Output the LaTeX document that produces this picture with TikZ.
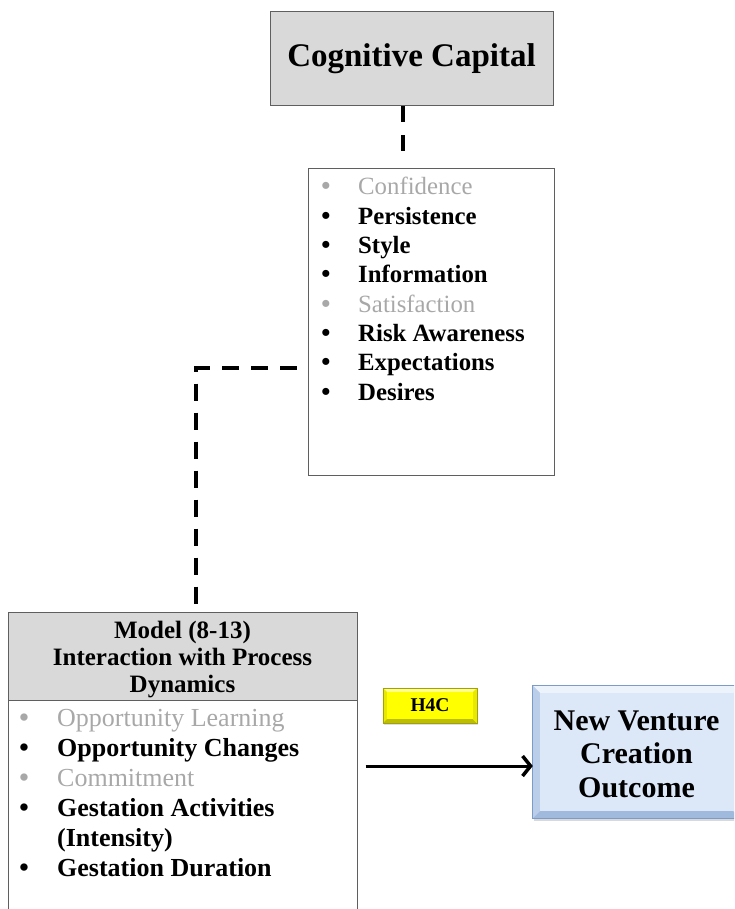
\documentclass[tikz,border=0pt]{standalone}
\usepackage{fontspec}
\setmainfont{Liberation Serif}
\usetikzlibrary{arrows.meta,calc,shadows}

\definecolor{boxgray}{RGB}{217,217,217}
\definecolor{edgegray}{RGB}{95,95,95}
\definecolor{fadetext}{RGB}{168,168,168}
\definecolor{nvcface}{RGB}{220,232,247}
\definecolor{nvctop}{RGB}{236,243,251}
\definecolor{nvcside}{RGB}{186,206,233}
\definecolor{nvcbottom}{RGB}{160,186,222}
\definecolor{nvcedge}{RGB}{125,155,200}
\definecolor{hface}{RGB}{255,255,0}
\definecolor{htop}{RGB}{255,255,140}
\definecolor{hside}{RGB}{232,232,0}
\definecolor{hbottom}{RGB}{190,190,0}
\definecolor{hedge}{RGB}{160,160,20}

\begin{document}
\begin{tikzpicture}[x=1pt,y=-1pt,
  frame/.style={draw=edgegray,line width=1pt,inner sep=0pt},
  link/.style={line width=4pt,dash pattern=on 17pt off 12pt},
  flow/.style={line width=3pt,-{Straight Barb[length=8pt,width=20pt,line width=3.5pt]}},
  lsitem/.style={anchor=base west,inner sep=0pt,font=\fontsize{24.8}{29}\selectfont},
  lsdot/.style={anchor=base,inner sep=0pt,font=\fontsize{26}{29}\selectfont\bfseries},
  mditem/.style={anchor=base west,inner sep=0pt,font=\fontsize{26}{30}\selectfont},
  mddot/.style={anchor=base,inner sep=0pt,font=\fontsize{27}{30}\selectfont\bfseries},
]
\useasboundingbox (0,0) rectangle (734,909);
\clip (0,0) rectangle (734,909);

% Cognitive Capital heading box
\node[frame,fill=boxgray,minimum width=283pt,minimum height=94pt,
      font=\fontsize{33}{38}\selectfont\bfseries] (cc) at (411.5,59) {Cognitive Capital};

% list of cognitive capital facets
\node[frame,minimum width=246pt,minimum height=306pt] (list) at (431,322) {};
\node[lsdot,text=fadetext] (d1) at (326,195) {\textbullet};
\node[lsitem,text=fadetext] (l1) at (358,195) {Confidence};
\node[lsdot] (d2) at (326,224.3) {\textbullet};
\node[lsitem,font=\fontsize{24.8}{29}\selectfont\bfseries] (l2) at (358,224.3) {Persistence};
\node[lsdot] (d3) at (326,253.6) {\textbullet};
\node[lsitem,font=\fontsize{24.8}{29}\selectfont\bfseries] (l3) at (358,253.6) {Style};
\node[lsdot] (d4) at (326,282.9) {\textbullet};
\node[lsitem,font=\fontsize{24.8}{29}\selectfont\bfseries] (l4) at (358,282.9) {Information};
\node[lsdot,text=fadetext] (d5) at (326,312.2) {\textbullet};
\node[lsitem,text=fadetext] (l5) at (358,312.2) {Satisfaction};
\node[lsdot] (d6) at (326,341.5) {\textbullet};
\node[lsitem,font=\fontsize{24.8}{29}\selectfont\bfseries] (l6) at (358,341.5) {Risk Awareness};
\node[lsdot] (d7) at (326,370.8) {\textbullet};
\node[lsitem,font=\fontsize{24.8}{29}\selectfont\bfseries] (l7) at (358,370.8) {Expectations};
\node[lsdot] (d8) at (326,400.1) {\textbullet};
\node[lsitem,font=\fontsize{24.8}{29}\selectfont\bfseries] (l8) at (358,400.1) {Desires};

% model box: shaded header and open-ended body
\node[frame,fill=boxgray,minimum width=349pt,minimum height=88pt] (mhead) at (182.5,656) {};
\node[anchor=base,inner sep=0pt,align=center,font=\fontsize{25}{27}\selectfont\bfseries]
  (mtitle) at (182.5,692) {Model (8-13)\\Interaction with Process\\Dynamics};
\node[frame,minimum width=349pt,minimum height=230pt] (model) at (182.5,815) {};

\node[mddot,text=fadetext] (e1) at (24,726) {\textbullet};
\node[mditem,text=fadetext] (m1) at (57,726) {Opportunity Learning};
\node[mddot] (e2) at (24,756) {\textbullet};
\node[mditem,font=\fontsize{26}{30}\selectfont\bfseries] (m2) at (57,756) {Opportunity Changes};
\node[mddot,text=fadetext] (e3) at (24,786) {\textbullet};
\node[mditem,text=fadetext] (m3) at (57,786) {Commitment};
\node[mddot] (e4) at (24,816) {\textbullet};
\node[mditem,font=\fontsize{26}{30}\selectfont\bfseries] (m4) at (57,816) {Gestation Activities};
\node[mditem,font=\fontsize{26}{30}\selectfont\bfseries] (m5) at (57,846) {(Intensity)};
\node[mddot] (e6) at (24,876) {\textbullet};
\node[mditem,font=\fontsize{26}{30}\selectfont\bfseries] (m6) at (57,876) {Gestation Duration};

% hypothesis label
\node[fill=hface,inner sep=0pt,minimum width=94pt,minimum height=35pt,
      drop shadow={shadow xshift=1pt,shadow yshift=-2pt,opacity=0.25}] (h4c) at (430,705.5) {};
\fill[htop] (h4c.north west) -- (h4c.north east) -- ([xshift=-4pt,yshift=-4pt]h4c.north east)
  -- ([xshift=4pt,yshift=-4pt]h4c.north west) -- cycle;
\fill[hside] (h4c.north west) -- ([xshift=4pt,yshift=-4pt]h4c.north west)
  -- ([xshift=4pt,yshift=4pt]h4c.south west) -- (h4c.south west) -- cycle;
\fill[hbottom] (h4c.south west) -- ([xshift=4pt,yshift=4pt]h4c.south west)
  -- ([xshift=-4pt,yshift=4pt]h4c.south east) -- (h4c.south east) -- cycle;
\fill[hside] (h4c.north east) -- ([xshift=-4pt,yshift=-4pt]h4c.north east)
  -- ([xshift=-4pt,yshift=4pt]h4c.south east) -- (h4c.south east) -- cycle;
\draw[hedge,line width=0.6pt] (h4c.north west) rectangle (h4c.south east);
\node[inner sep=0pt,font=\fontsize{19.5}{22}\selectfont\bfseries] (h4ct) at (h4c.center) {H4C};

% outcome box with bevelled rim
\node[fill=nvcface,inner sep=0pt,minimum width=207pt,minimum height=132pt,
      drop shadow={shadow xshift=1pt,shadow yshift=-3pt,opacity=0.3}] (nvc) at (636.5,752) {};
\fill[nvctop] (nvc.north west) -- (nvc.north east) -- ([xshift=-7pt,yshift=-7pt]nvc.north east)
  -- ([xshift=7pt,yshift=-7pt]nvc.north west) -- cycle;
\fill[nvcside] (nvc.north west) -- ([xshift=7pt,yshift=-7pt]nvc.north west)
  -- ([xshift=7pt,yshift=7pt]nvc.south west) -- (nvc.south west) -- cycle;
\fill[nvcbottom] (nvc.south west) -- ([xshift=7pt,yshift=7pt]nvc.south west)
  -- ([xshift=-7pt,yshift=7pt]nvc.south east) -- (nvc.south east) -- cycle;
\draw[nvcedge,line width=1pt] (nvc.north west) rectangle (nvc.south east);
\node[anchor=base,inner sep=0pt,align=center,font=\fontsize{30}{33.5}\selectfont\bfseries]
  (nvct) at (636.5,797) {New Venture\\Creation\\Outcome};

% connectors
\draw[link,dash pattern=on 16pt off 13pt,shorten >=5pt]
  ([xshift=-8.5pt]cc.south) -- ([xshift=-8.5pt]cc.south |- list.north);
\draw[link,dash phase=18pt] ([yshift=-46pt]list.west) -| ([xshift=13.5pt]mhead.north);
\coordinate (tip) at ([yshift=-14pt]nvc.west);
\coordinate (tail) at ($(model.east |- tip)+(8pt,0pt)$);
\draw[flow] (tail) -- (tip);
\end{tikzpicture}
\end{document}
